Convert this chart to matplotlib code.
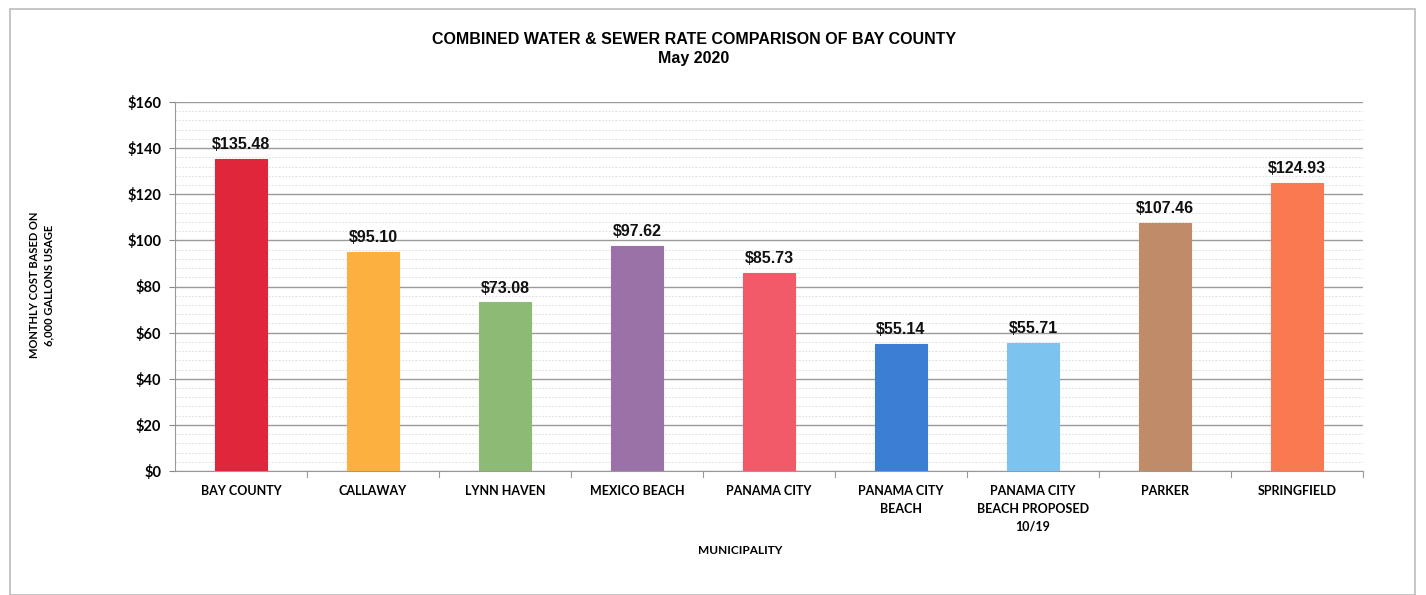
import matplotlib
matplotlib.use("Agg")
import matplotlib.pyplot as plt
from matplotlib.ticker import MultipleLocator, FuncFormatter
from matplotlib.patches import Rectangle

categories = ["BAY COUNTY", "CALLAWAY", "LYNN HAVEN", "MEXICO BEACH", "PANAMA CITY",
              "PANAMA CITY\nBEACH", "PANAMA CITY\nBEACH PROPOSED\n10/19", "PARKER", "SPRINGFIELD"]
values = [135.48, 95.10, 73.08, 97.62, 85.73, 55.14, 55.71, 107.46, 124.93]
value_labels = ["$135.48", "$95.10", "$73.08", "$97.62", "$85.73", "$55.14", "$55.71", "$107.46", "$124.93"]
colors = ["#e0263a", "#fbb040", "#8dba74", "#9b72a8", "#f25a6a",
          "#3a7fd4", "#7cc3f0", "#c08b68", "#f97a50"]
title = "COMBINED WATER & SEWER RATE COMPARISON OF BAY COUNTY\nMay 2020"
xlabel = "MUNICIPALITY"
ylabel = "MONTHLY COST BASED ON\n6,000 GALLONS USAGE"

fig = plt.figure(figsize=(14.26, 5.95), dpi=100)
fig.patch.set_facecolor("white")
W, H = 1426, 595
ax = fig.add_axes([175 / W, 1 - 471 / H, (1363 - 175) / W, (471 - 102) / H])

x = list(range(len(categories)))
ax.bar(x, values, width=0.4, color=colors, edgecolor=colors, linewidth=0.8, zorder=3)
ax.set_xlim(-0.5, len(categories) - 0.5)
ax.set_ylim(0, 160)
ax.yaxis.set_major_locator(MultipleLocator(20))
ax.yaxis.set_minor_locator(MultipleLocator(4))
ax.yaxis.set_major_formatter(FuncFormatter(lambda v, p: f"${v:.0f}"))
ax.grid(axis="y", which="major", color="#9a9a9a", linewidth=1.0, zorder=0)
ax.grid(axis="y", which="minor", color="#d8d8d8", linewidth=0.6, linestyle=(0, (2, 2)), zorder=0)
ax.tick_params(axis="y", which="minor", length=0)
ax.tick_params(axis="y", which="major", length=4, color="#888888", labelsize=10.5, pad=6)
ax.tick_params(axis="x", length=0, labelsize=9, pad=10)
for s in ["top", "right"]:
    ax.spines[s].set_visible(False)
ax.spines["left"].set_color("#999999")
ax.spines["bottom"].set_color("#999999")
ax.set_xticks(x)
ax.set_xticklabels(categories, fontfamily="Lato", fontweight="bold", linespacing=1.6)
for lab in ax.get_yticklabels():
    lab.set_fontfamily("Lato")
    lab.set_fontweight("bold")
for b in range(1, len(categories) + 1):
    ax.plot([b - 0.5, b - 0.5], [0, -2.5], color="#999999", lw=0.8, clip_on=False)

for xi, v, lab in zip(x, values, value_labels):
    ax.text(xi, v + 3, lab, ha="center", va="bottom", fontsize=11.5, fontfamily="Liberation Sans",
            fontweight="bold", color="#111111", zorder=4)

fig.text(694 / W, 1 - 49 / H, title, ha="center", va="center", fontsize=11.5,
         fontfamily="Liberation Sans", fontweight="bold", linespacing=1.3)
fig.text(740 / W, 1 - 551 / H, xlabel, ha="center", va="center", fontsize=8.5,
         fontfamily="Lato", fontweight="bold")
fig.text(42 / W, 1 - 285 / H, ylabel, ha="center", va="center", rotation=90, fontsize=8,
         fontfamily="Lato", fontweight="bold", linespacing=1.35)

fig.patches.append(Rectangle((10 / W, 0), (1415 - 10) / W, 1 - 9 / H, transform=fig.transFigure,
                             fill=False, edgecolor="#bbbbbb", linewidth=1.2))

fig.savefig("out.png", dpi=100)
